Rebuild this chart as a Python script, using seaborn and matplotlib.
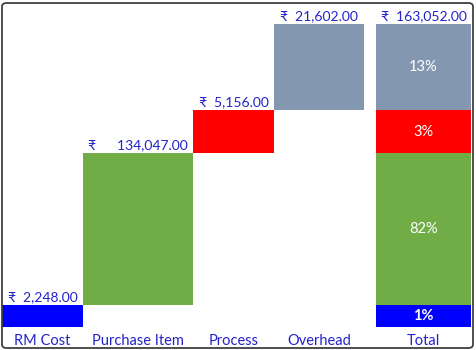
import matplotlib
matplotlib.use("Agg")
import matplotlib.pyplot as plt
import seaborn as sns
import numpy as np
from matplotlib.patches import FancyBboxPatch

# ---- data ----
categories = ["RM Cost", "Purchase Item", "Process", "Overhead"]
total_label = "Total"
cost_values = [2248.00, 134047.00, 5156.00, 21602.00]
total_value = 163052.00
# displayed bar heights as drawn in the reference (chart is not to scale)
bar_heights = [22, 152, 43, 86]
colors = ["#0000FF", "#70AD47", "#FF0000", "#8497B0"]

# ---- layout (not data) ----
positions = [0.0, 1.0, 2.0, 2.895, 3.99]
widths = [0.848, 1.152, 0.848, 0.942, 0.995]
label_pad = ["  ", "      ", "  ", "  ", "  "]

sns.set_theme(style="white")
plt.rcParams["font.family"] = ["Lato", "DejaVu Sans"]

fig = plt.figure(figsize=(4.76, 3.5), dpi=100)
ax = fig.add_axes([2 / 476, 23 / 350, 471 / 476, 325 / 350])
ax.set_xlim(-0.424, 4.508)
ax.set_ylim(0, 325)

label_color = "#2222CC"
fs = 10.5
vfs = 10

bottoms = np.concatenate([[0], np.cumsum(bar_heights)[:-1]])

for i, (h, b, c, v) in enumerate(zip(bar_heights, bottoms, colors, cost_values)):
    ax.bar(positions[i], h, bottom=b, width=widths[i], color=c, linewidth=0)
    ax.text(positions[i], b + h + 2, "₹" + label_pad[i] + f"{v:,.2f}",
            ha="center", va="bottom", color=label_color, fontsize=vfs)

# total stacked bar
tp = positions[4]
for i, (h, b, c, v) in enumerate(zip(bar_heights, bottoms, colors, cost_values)):
    ax.bar(tp, h, bottom=b, width=widths[4], color=c, linewidth=0)
    pct = round(100 * v / total_value)
    ax.text(tp, b + h / 2, f"{pct}%", ha="center", va="center", color="white",
            fontsize=fs, fontweight="bold" if i == 0 else "normal")
ax.text(tp, sum(bar_heights) + 2, "₹" + label_pad[4] + f"{total_value:,.2f}",
        ha="center", va="bottom", color=label_color, fontsize=vfs)

ax.set_xticks(positions)
ax.set_xticklabels(categories + [total_label], color=label_color, fontsize=fs)
ax.tick_params(axis="x", length=0, pad=5)
ax.set_yticks([])
for s in ax.spines.values():
    s.set_visible(False)

border = FancyBboxPatch((2 / 476, 2 / 350), 471 / 476, 345 / 350,
                        boxstyle="round,pad=0,rounding_size=0.01",
                        transform=fig.transFigure, fill=False,
                        edgecolor="#404040", linewidth=1.3)
fig.patches.append(border)

fig.savefig("out.png", dpi=100)
